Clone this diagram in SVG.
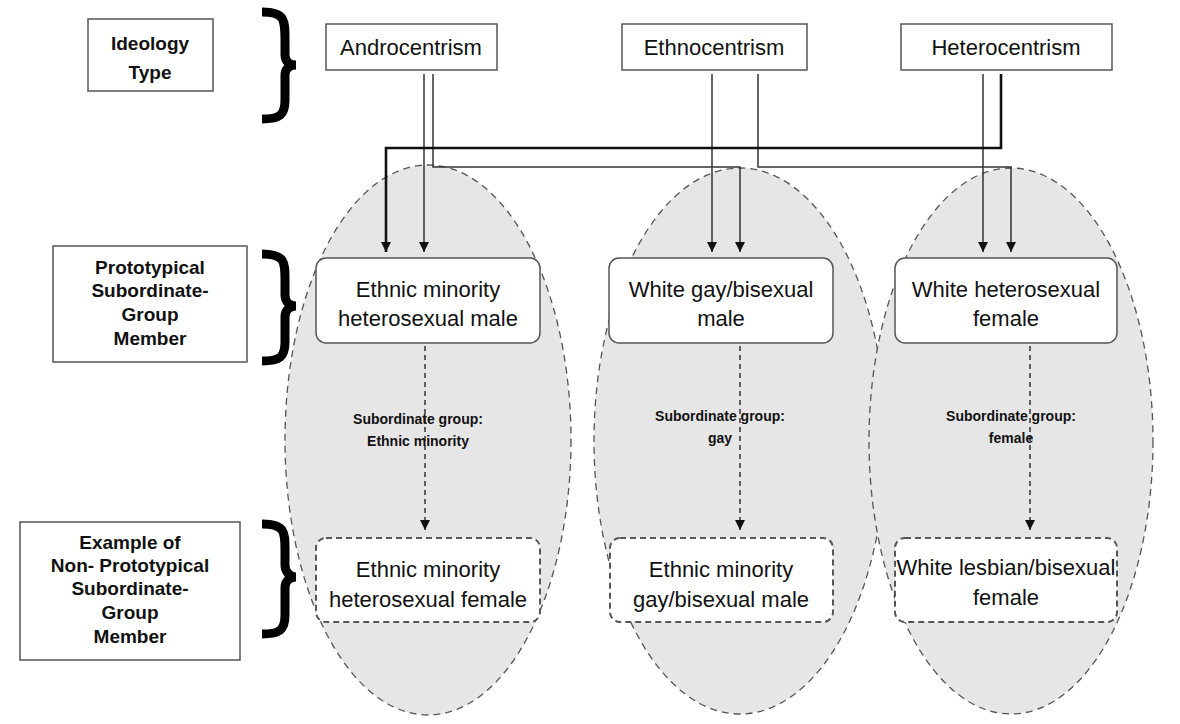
<svg xmlns="http://www.w3.org/2000/svg" width="1180" height="724" viewBox="0 0 1180 724">
<style>
text{font-family:"Liberation Sans",Arial,sans-serif;fill:#111;text-anchor:middle}
.lab{font-weight:bold;font-size:19px}
.nt{font-size:22px}
.sm{font-weight:bold;font-size:14px}
.box{fill:#fff;stroke:#555;stroke-width:1.5}
.dbox{stroke-dasharray:6 4;stroke-width:2}
.ell{fill:#e6e6e6;stroke:#555;stroke-width:1.3;stroke-dasharray:7 5}
.br{fill:none;stroke:#000;stroke-width:9}
.c{fill:none;stroke:#333;stroke-width:1.5}
.thick{stroke:#111;stroke-width:2.6}
.dash{stroke-dasharray:5 4}
</style>
<defs><marker id="a" viewBox="0 0 10 10" refX="10" refY="5" markerUnits="userSpaceOnUse" markerWidth="10" markerHeight="10" orient="auto"><path d="M0,0L10,5L0,10z" fill="#111"/></marker></defs>
<g id="ellipses">
<ellipse class="ell" cx="428" cy="440" rx="143" ry="275"/>
<ellipse class="ell" cx="740" cy="441" rx="146" ry="273"/>
<ellipse class="ell" cx="1011" cy="441" rx="142" ry="273"/>
</g>
<g id="labels">
<g id="lab-ideology"><rect class="box" x="88" y="19" width="125" height="72"/><text class="lab" x="150" y="50">Ideology</text><text class="lab" x="150" y="79">Type</text></g>
<g id="lab-proto"><rect class="box" x="53" y="246" width="194" height="116"/><text class="lab" x="150" y="274">Prototypical</text><text class="lab" x="150" y="297">Subordinate-</text><text class="lab" x="150" y="321">Group</text><text class="lab" x="150" y="345">Member</text></g>
<g id="lab-example"><rect class="box" x="20" y="522" width="220" height="138"/><text class="lab" x="130" y="549">Example of</text><text class="lab" x="130" y="572">Non- Prototypical</text><text class="lab" x="130" y="595">Subordinate-</text><text class="lab" x="130" y="619">Group</text><text class="lab" x="130" y="643">Member</text></g>
</g>
<g id="brackets">
<path class="br" d="M262,12 C285,12 285,20 285,40 L285,55 C285,62 290,65 296,65 C290,65 285,68 285,75 L285,100 C285,115 280,119 262,119"/>
<path class="br" d="M262,254 C285,254 285,262 285,280 L285,295 C285,302 290,306 296,306 C290,306 285,310 285,317 L285,342 C285,357 280,361 262,361"/>
<path class="br" d="M262,524 C285,524 285,532 285,550 L285,565 C285,572 290,577 296,577 C290,577 285,581 285,588 L285,615 C285,630 280,634 262,634"/>
</g>
<g id="connectors">
<path class="c" d="M424,74V252" marker-end="url(#a)"/>
<path class="c" d="M433,74V167H740V252" marker-end="url(#a)"/>
<path class="c" d="M712,74V252" marker-end="url(#a)"/>
<path class="c" d="M758,74V167H1011V252" marker-end="url(#a)"/>
<path class="c" d="M983,74V252" marker-end="url(#a)"/>
<path class="c thick" d="M1001,74V148H386V252" marker-end="url(#a)"/>
<path class="c dash" d="M425,346V530" marker-end="url(#a)"/>
<path class="c dash" d="M740,346V530" marker-end="url(#a)"/>
<path class="c dash" d="M1030,346V530" marker-end="url(#a)"/>
</g>
<g id="sublabels">
<text class="sm" x="418" y="424">Subordinate group:</text><text class="sm" x="418" y="446">Ethnic minority</text>
<text class="sm" x="720" y="421">Subordinate group:</text><text class="sm" x="720" y="443">gay</text>
<text class="sm" x="1011" y="421">Subordinate group:</text><text class="sm" x="1011" y="443">female</text>
</g>
<g id="n-andro"><rect class="box" x="326" y="24" width="171" height="46"/><text class="nt" x="411" y="55">Androcentrism</text></g>
<g id="n-ethno"><rect class="box" x="622" y="24" width="185" height="46"/><text class="nt" x="714" y="55">Ethnocentrism</text></g>
<g id="n-hetero"><rect class="box" x="901" y="24" width="211" height="46"/><text class="nt" x="1006" y="55">Heterocentrism</text></g>
<g id="p1"><rect class="box" x="316" y="258" width="224" height="85" rx="10"/><text class="nt" x="428" y="297">Ethnic minority</text><text class="nt" x="428" y="326">heterosexual male</text></g>
<g id="p2"><rect class="box" x="609" y="258" width="224" height="85" rx="10"/><text class="nt" x="721" y="297">White gay/bisexual</text><text class="nt" x="721" y="326">male</text></g>
<g id="p3"><rect class="box" x="895" y="258" width="222" height="85" rx="10"/><text class="nt" x="1006" y="297">White heterosexual</text><text class="nt" x="1006" y="326">female</text></g>
<g id="e1"><rect class="box dbox" x="316" y="538" width="224" height="84" rx="10"/><text class="nt" x="428" y="577">Ethnic minority</text><text class="nt" x="428" y="607">heterosexual female</text></g>
<g id="e2"><rect class="box dbox" x="610" y="538" width="223" height="84" rx="10"/><text class="nt" x="721" y="577">Ethnic minority</text><text class="nt" x="721" y="607">gay/bisexual male</text></g>
<g id="e3"><rect class="box dbox" x="895" y="538" width="222" height="84" rx="10"/><text class="nt" x="1006" y="575">White lesbian/bisexual</text><text class="nt" x="1006" y="605">female</text></g>
</svg>
